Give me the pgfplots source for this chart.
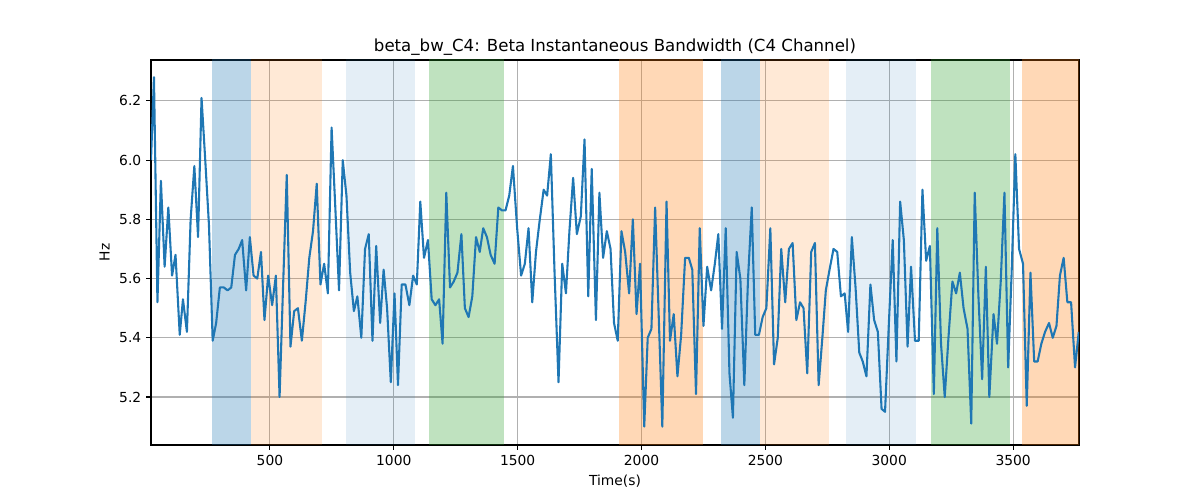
\documentclass[border=0pt]{standalone}
\usepackage{fontspec}
\setmainfont{DejaVu Sans}
\usepackage{pgfplots}
\pgfplotsset{compat=1.18}
\usepackage{pgfplotstable}

\definecolor{tabblue}{RGB}{31,119,180}
\definecolor{taborange}{RGB}{255,127,14}
\definecolor{tabgreen}{RGB}{44,160,44}
\definecolor{gridgray}{RGB}{176,176,176}

\pgfplotstableread{
t bw
20 6.00
32 6.28
46 5.52
60 5.93
75 5.64
90 5.84
105 5.61
119 5.68
136 5.41
149 5.53
165 5.42
180 5.80
195 5.98
210 5.74
224 6.21
239 6.00
254 5.78
269 5.39
283 5.45
298 5.57
314 5.57
329 5.56
344 5.57
359 5.68
374 5.70
388 5.73
404 5.56
419 5.74
434 5.61
449 5.60
464 5.69
478 5.46
493 5.61
509 5.51
524 5.61
539 5.20
553 5.57
568 5.95
583 5.37
598 5.49
613 5.50
629 5.39
644 5.52
659 5.67
674 5.76
689 5.92
704 5.58
719 5.65
734 5.55
749 6.11
764 5.84
779 5.56
794 6.00
809 5.88
824 5.62
839 5.49
853 5.54
869 5.40
884 5.70
899 5.75
914 5.39
929 5.71
945 5.45
959 5.63
973 5.50
988 5.25
1003 5.55
1017 5.24
1032 5.58
1047 5.58
1063 5.51
1078 5.61
1093 5.58
1107 5.86
1122 5.67
1138 5.73
1153 5.53
1168 5.51
1183 5.53
1197 5.38
1212 5.89
1227 5.57
1242 5.59
1257 5.62
1273 5.75
1287 5.50
1302 5.47
1317 5.54
1332 5.74
1347 5.69
1361 5.77
1376 5.74
1391 5.68
1407 5.65
1422 5.84
1437 5.83
1451 5.83
1466 5.88
1481 5.98
1498 5.77
1514 5.61
1529 5.65
1544 5.77
1559 5.52
1574 5.69
1588 5.79
1605 5.90
1619 5.88
1634 6.02
1649 5.62
1665 5.25
1680 5.65
1695 5.55
1709 5.76
1724 5.94
1739 5.75
1755 5.81
1770 6.07
1785 5.54
1799 5.97
1816 5.46
1830 5.89
1845 5.67
1860 5.76
1875 5.70
1889 5.45
1904 5.39
1919 5.76
1934 5.69
1950 5.55
1965 5.80
1980 5.48
1994 5.65
2011 5.10
2025 5.40
2040 5.43
2055 5.84
2070 5.46
2084 5.10
2101 5.86
2115 5.39
2130 5.48
2145 5.27
2160 5.41
2176 5.67
2191 5.67
2205 5.63
2220 5.21
2235 5.77
2250 5.44
2265 5.64
2281 5.56
2296 5.65
2310 5.75
2325 5.43
2340 5.77
2355 5.28
2369 5.13
2384 5.69
2399 5.60
2415 5.24
2430 5.60
2445 5.84
2459 5.41
2474 5.41
2489 5.47
2504 5.50
2520 5.77
2535 5.31
2550 5.40
2564 5.70
2580 5.52
2595 5.70
2610 5.72
2625 5.46
2640 5.52
2654 5.50
2669 5.28
2685 5.69
2700 5.72
2715 5.24
2730 5.40
2744 5.56
2759 5.63
2775 5.70
2790 5.69
2805 5.54
2820 5.55
2834 5.42
2849 5.74
2864 5.57
2879 5.35
2893 5.32
2908 5.27
2924 5.58
2939 5.46
2954 5.42
2969 5.16
2983 5.15
2998 5.44
3014 5.73
3029 5.32
3044 5.86
3059 5.73
3074 5.37
3088 5.64
3104 5.39
3119 5.39
3134 5.90
3149 5.66
3164 5.71
3180 5.21
3194 5.77
3209 5.38
3224 5.20
3239 5.40
3255 5.59
3270 5.55
3285 5.62
3300 5.50
3316 5.43
3331 5.11
3345 5.89
3360 5.54
3375 5.26
3390 5.64
3404 5.20
3421 5.48
3435 5.38
3450 5.59
3465 5.89
3480 5.30
3494 5.62
3509 6.02
3524 5.70
3540 5.65
3555 5.17
3570 5.62
3585 5.32
3599 5.32
3614 5.38
3629 5.42
3645 5.45
3660 5.40
3675 5.44
3689 5.61
3704 5.67
3719 5.52
3734 5.52
3750 5.30
3765 5.42
}\bwdata

\begin{document}
\begin{tikzpicture}
\begin{axis}[
  scale only axis,
  width=668.16bp, height=277.2bp,
  xmin=20, xmax=3766, ymin=5.038, ymax=6.338,
  xtick={500,1000,1500,2000,2500,3000,3500},
  ytick={5.2,5.4,5.6,5.8,6.0,6.2},
  yticklabel style={/pgf/number format/.cd, fixed, fixed zerofill, precision=1},
  /pgf/number format/set thousands separator={},
  /pgf/number format/assume math mode=true,
  tick label style={font=\fontsize{10}{12}\selectfont},
  tick align=outside, tick pos=left,
  major tick length=3.5bp,
  every tick/.style={black, line width=0.8bp},
  axis line style={black, line width=0.8bp},
  grid=major,
  major grid style={gridgray, line width=0.8bp},
  xlabel={Time(s)}, ylabel={Hz},
  label style={font=\fontsize{10}{12}\selectfont},
  title={beta\_bw\_C4: Beta Instantaneous Bandwidth (C4 Channel)},
  title style={font=\fontsize{12}{14}\selectfont, yshift=-6bp},
]
% shaded spans
\addplot[draw=none, fill=tabblue, fill opacity=0.3, forget plot] coordinates {(266,4.9) (422,4.9) (422,6.5) (266,6.5)} -- cycle;
\addplot[draw=none, fill=taborange, fill opacity=0.17, forget plot] coordinates {(422,4.9) (712,4.9) (712,6.5) (422,6.5)} -- cycle;
\addplot[draw=none, fill=tabblue, fill opacity=0.12, forget plot] coordinates {(806,4.9) (1087,4.9) (1087,6.5) (806,6.5)} -- cycle;
\addplot[draw=none, fill=tabgreen, fill opacity=0.3, forget plot] coordinates {(1141,4.9) (1446,4.9) (1446,6.5) (1141,6.5)} -- cycle;
\addplot[draw=none, fill=taborange, fill opacity=0.3, forget plot] coordinates {(1911,4.9) (2249,4.9) (2249,6.5) (1911,6.5)} -- cycle;
\addplot[draw=none, fill=tabblue, fill opacity=0.3, forget plot] coordinates {(2322,4.9) (2478,4.9) (2478,6.5) (2322,6.5)} -- cycle;
\addplot[draw=none, fill=taborange, fill opacity=0.17, forget plot] coordinates {(2478,4.9) (2758,4.9) (2758,6.5) (2478,6.5)} -- cycle;
\addplot[draw=none, fill=tabblue, fill opacity=0.12, forget plot] coordinates {(2825,4.9) (3109,4.9) (3109,6.5) (2825,6.5)} -- cycle;
\addplot[draw=none, fill=tabgreen, fill opacity=0.3, forget plot] coordinates {(3169,4.9) (3487,4.9) (3487,6.5) (3169,6.5)} -- cycle;
\addplot[draw=none, fill=taborange, fill opacity=0.3, forget plot] coordinates {(3536,4.9) (3800,4.9) (3800,6.5) (3536,6.5)} -- cycle;
% signal
\addplot[tabblue, line width=1.5bp, mark=none, line join=round] table[x=t, y=bw] {\bwdata};
\end{axis}
\path (current axis.south west) +(-108.72bp,-39.6bp) (current axis.north east) +(87.12bp,43.2bp);
\end{tikzpicture}
\end{document}
